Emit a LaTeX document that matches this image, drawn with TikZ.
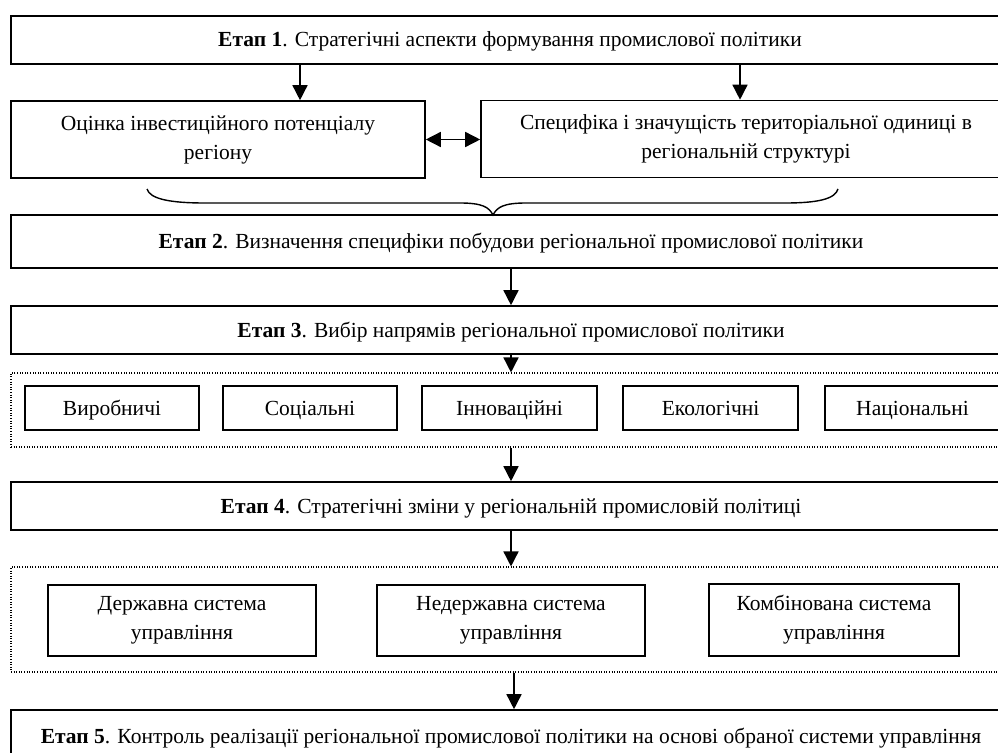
\documentclass[tikz,border=0pt]{standalone}
\usepackage{fontspec}
\setmainfont{Liberation Serif}
\usetikzlibrary{arrows.meta}
\tikzset{
  box/.style={draw, line width=1.6pt, inner sep=0pt, align=center, font=\fontsize{21.5}{29}\selectfont},
  one/.style={text height=14pt, text depth=0pt},
  grp/.style={draw, line width=1.1pt, dash pattern=on 1pt off 1.6pt, inner sep=0pt},
  arr/.style={line width=1.5pt, -{Triangle[length=15pt,width=15pt]}},
  darr/.style={line width=1.5pt, {Triangle[length=15pt,width=15pt]}-{Triangle[length=15pt,width=15pt]}},
  brace/.style={line width=1.4pt}
}
\begin{document}
\begin{tikzpicture}[x=1pt,y=-1pt]
\clip (0,0) rectangle (998,752);
\fill[white] (0,0) rectangle (998,752);

% group frames
\node[grp, minimum width=1000pt, minimum height=74pt] (g1) at (511,410) {};
\node[grp, minimum width=1000pt, minimum height=105pt] (g2) at (511,619.5) {};

% stage boxes
\node[box, one, minimum width=998pt, minimum height=48pt] (e1) at (510,40) {\textbf{Етап 1}. Стратегічні аспекти формування промислової політики};
\node[box, minimum width=414pt, minimum height=77pt] (b1) at (218,139.5) {Оцінка інвестиційного потенціалу\\регіону};
\node[box, minimum width=530pt, minimum height=77pt] (b2) at (746,139) {Специфіка і значущість територіальної одиниці в\\регіональній структурі};
\node[box, one, minimum width=1000pt, minimum height=53pt] (e2) at (511,241.5) {\textbf{Етап 2}. Визначення специфіки побудови регіональної промислової політики};
\node[box, one, minimum width=1000pt, minimum height=48pt] (e3) at (511,330) {\textbf{Етап 3}. Вибір напрямів регіональної промислової політики};

\node[box, one, minimum width=174pt, minimum height=44pt] (d1) at (112,408) {Виробничі};
\node[box, one, minimum width=174pt, minimum height=44pt] (d2) at (310,408) {Соціальні};
\node[box, one, minimum width=175pt, minimum height=44pt] (d3) at (509.5,408) {Інноваційні};
\node[box, one, minimum width=175pt, minimum height=44pt] (d4) at (710.5,408) {Екологічні};
\node[box, one, minimum width=175pt, minimum height=44pt] (d5) at (912.5,408) {Національні};

\node[box, one, minimum width=1000pt, minimum height=48pt] (e4) at (511,506) {\textbf{Етап 4}. Стратегічні зміни у регіональній промисловій політиці};

\node[box, minimum width=268pt, minimum height=71pt] (s1) at (182,620.5) {Державна система\\управління};
\node[box, minimum width=268pt, minimum height=71pt] (s2) at (511,620.5) {Недержавна система\\управління};
\node[box, minimum width=250pt, minimum height=72pt] (s3) at (834,620) {Комбінована система\\управління};

\node[box, one, minimum width=1000pt, minimum height=52pt] (e5) at (511,736) {\textbf{Етап 5}. Контроль реалізації регіональної промислової політики на основі обраної системи управління};

% arrow columns
\coordinate (cA) at (300,0);
\coordinate (cB) at (740,0);
\coordinate (cC) at (511,0);
\coordinate (cD) at (514,0);

\draw[arr] (e1.south -| cA) -- (b1.north -| cA);
\draw[arr] (e1.south -| cB) -- (b2.north -| cB);
\draw[darr] (b1.east) -- (b1.east -| b2.west);
\draw[arr] (e2.south -| cC) -- (e3.north -| cC);
\draw[arr] (e3.south -| cC) -- (g1.north -| cC);
\draw[arr] (g1.south -| cC) -- (e4.north -| cC);
\draw[arr] (e4.south -| cC) -- (g2.north -| cC);
\draw[arr] (g2.south -| cD) -- (e5.north -| cD);

% brace
\coordinate (brL) at (147,189);
\coordinate (brR) at (838,189);
\coordinate (brT) at (493,215);
\draw[brace] (brL) .. controls (150,199) and (170,203) .. (205,203)
  -- (460,203) .. controls (482,203) and (489,207) .. (brT)
  .. controls (497,207) and (504,203) .. (526,203)
  -- (785,203) .. controls (818,203) and (835,199) .. (brR);
\end{tikzpicture}
\end{document}
